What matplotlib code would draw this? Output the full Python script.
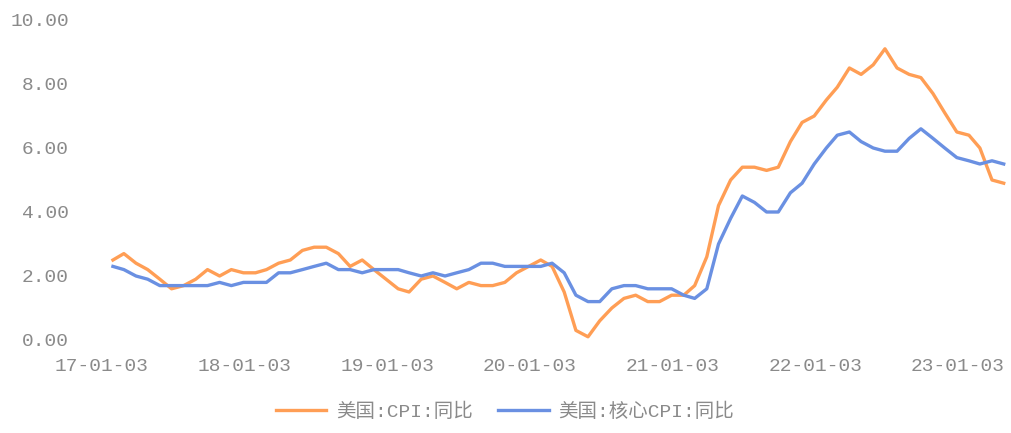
import matplotlib
matplotlib.use("Agg")
import matplotlib.pyplot as plt
import numpy as np
import pandas as pd

# Monthly data, Jan 2017 .. Apr 2023
months = pd.date_range("2017-01-31", periods=76, freq="ME")

cpi_yoy = [
    2.5, 2.7, 2.4, 2.2, 1.9, 1.6, 1.7, 1.9, 2.2, 2.0, 2.2, 2.1,
    2.1, 2.2, 2.4, 2.5, 2.8, 2.9, 2.9, 2.7, 2.3, 2.5, 2.2, 1.9,
    1.6, 1.5, 1.9, 2.0, 1.8, 1.6, 1.8, 1.7, 1.7, 1.8, 2.1, 2.3,
    2.5, 2.3, 1.5, 0.3, 0.1, 0.6, 1.0, 1.3, 1.4, 1.2, 1.2, 1.4,
    1.4, 1.7, 2.6, 4.2, 5.0, 5.4, 5.4, 5.3, 5.4, 6.2, 6.8, 7.0,
    7.5, 7.9, 8.5, 8.3, 8.6, 9.1, 8.5, 8.3, 8.2, 7.7, 7.1, 6.5,
    6.4, 6.0, 5.0, 4.9,
]
core_cpi_yoy = [
    2.3, 2.2, 2.0, 1.9, 1.7, 1.7, 1.7, 1.7, 1.7, 1.8, 1.7, 1.8,
    1.8, 1.8, 2.1, 2.1, 2.2, 2.3, 2.4, 2.2, 2.2, 2.1, 2.2, 2.2,
    2.2, 2.1, 2.0, 2.1, 2.0, 2.1, 2.2, 2.4, 2.4, 2.3, 2.3, 2.3,
    2.3, 2.4, 2.1, 1.4, 1.2, 1.2, 1.6, 1.7, 1.7, 1.6, 1.6, 1.6,
    1.4, 1.3, 1.6, 3.0, 3.8, 4.5, 4.3, 4.0, 4.0, 4.6, 4.9, 5.5,
    6.0, 6.4, 6.5, 6.2, 6.0, 5.9, 5.9, 6.3, 6.6, 6.3, 6.0, 5.7,
    5.6, 5.5, 5.6, 5.5,
]
series_names = ["美国:CPI:同比", "美国:核心CPI:同比"]
tick_dates = pd.to_datetime(["2017-01-03", "2018-01-03", "2019-01-03", "2020-01-03",
                             "2021-01-03", "2022-01-03", "2023-01-03"])
tick_labels = ["17-01-03", "18-01-03", "19-01-03", "20-01-03",
               "21-01-03", "22-01-03", "23-01-03"]
y_ticks = [0, 2, 4, 6, 8, 10]

text_color = "#8a8a8a"
fam = ["Liberation Mono", "Noto Sans CJK SC", "DejaVu Sans"]

fig = plt.figure(figsize=(10.11, 4.33), dpi=100)
W, H = 1011, 433
ax_left, ax_right, ax_top, ax_bottom = 80, 1010, 20, 340
ax = fig.add_axes([ax_left / W, 1 - ax_bottom / H, (ax_right - ax_left) / W,
                   (ax_bottom - ax_top) / H])

ax.plot(months, cpi_yoy, color="#FF9E55", lw=2.4, label=series_names[0],
        solid_joinstyle="round")
ax.plot(months, core_cpi_yoy, color="#6A90E2", lw=2.4, label=series_names[1],
        solid_joinstyle="round")

# x mapping: 2017-01-03 at px 102, 142.7 px per year
t0 = pd.Timestamp("2017-01-03")
px_per_day = 142.7 / 365.25
xl = t0 + pd.Timedelta(days=(ax_left - 102) / px_per_day)
xr = t0 + pd.Timedelta(days=(ax_right - 102) / px_per_day)
ax.set_xlim(xl, xr)
ax.set_ylim(0, 10)

ax.set_xticks(tick_dates)
ax.set_xticklabels(tick_labels)
ax.set_yticks(y_ticks)
ax.set_yticklabels([f"{v:.2f}" for v in y_ticks])
for lab in ax.get_xticklabels() + ax.get_yticklabels():
    lab.set_family(fam)
    lab.set_fontsize(14)
    lab.set_color(text_color)
ax.tick_params(axis="both", length=0)
ax.tick_params(axis="y", pad=8)
ax.tick_params(axis="x", pad=13)
for s in ax.spines.values():
    s.set_visible(False)

leg = fig.legend(loc="center", bbox_to_anchor=(505 / W, 1 - 412 / H), ncol=2,
                 frameon=False, prop={"family": fam, "size": 14},
                 handlelength=2.6, columnspacing=1.3, handletextpad=0.5)
for t in leg.get_texts():
    t.set_color(text_color)

fig.savefig("out.png", dpi=100, facecolor="white")
